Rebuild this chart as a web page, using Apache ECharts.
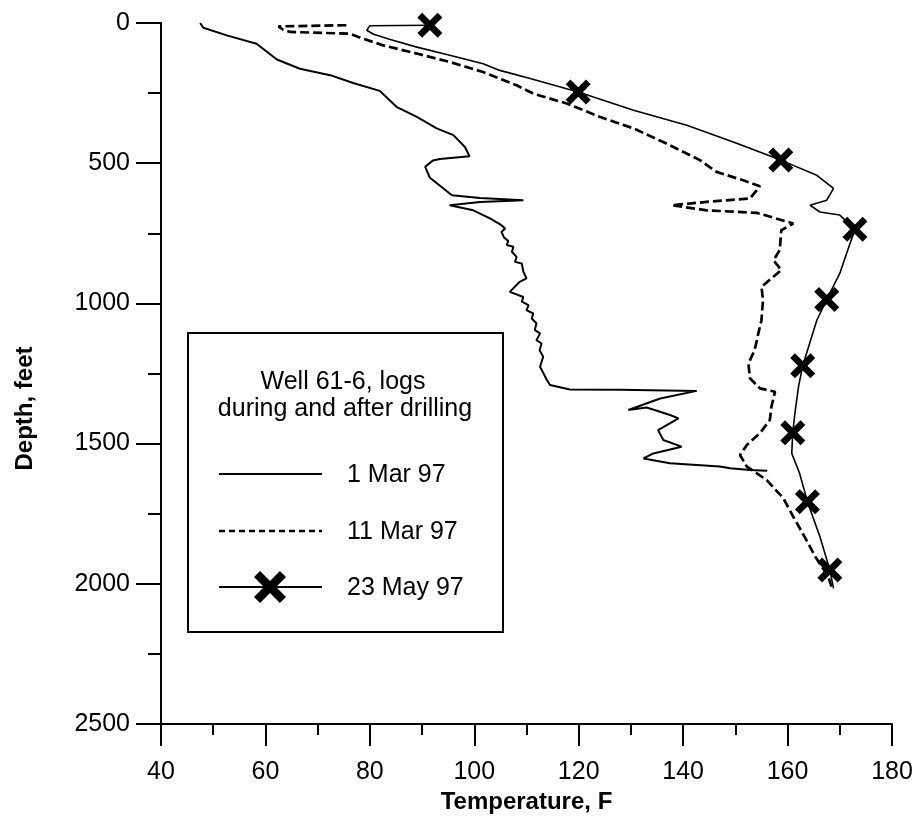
<!DOCTYPE html>
<html>
<head>
<meta charset="utf-8">
<script src="https://cdn.jsdelivr.net/npm/echarts@6/dist/echarts.min.js"></script>
<style>html,body{margin:0;padding:0;background:#fff}#c{width:917px;height:820px}</style>
</head>
<body>
<div id="c"></div>
<script>
// ---- data: [temperature F, depth ft] ----
const mar1 = [
  [47.5,0],[48.1,17],[52.6,44],[58.3,74],[62.2,130],[66.6,163],[72.4,186],[76.8,214],[81.9,242],
  [85.1,299],[89.0,335],[92.8,376],[96.0,400],[98.2,442],[99.1,475],[93.4,485],[92.1,490],[90.6,513],
  [91.5,552],[94.1,590],[95.7,614],[101.1,624],[109.4,632],[101.1,638],[95.3,650],[99.8,668],[103.0,697],
  [105.2,721],[105.9,733],[105.2,745],[105.7,765],[106.5,777],[106.2,792],[107.5,798],[107.2,816],
  [108.1,834],[107.8,852],[109.1,858],[109.4,887],[110.0,911],[108.7,923],[106.8,959],[109.4,977],
  [109.1,994],[110.4,1006],[110.0,1024],[111.3,1036],[111.0,1054],[111.9,1071],[111.6,1095],[112.6,1107],
  [111.9,1131],[112.9,1143],[112.5,1167],[113.2,1190],
  [112.6,1226],[113.9,1273],[114.5,1291],[118.3,1307],[127.9,1308],[142.6,1312],[135.6,1339],[129.5,1380],
  [133.0,1371],[137.5,1398],[139.1,1410],[135.2,1452],[136.2,1487],[139.7,1511],[134.3,1535],[132.4,1553],
  [137.5,1570],[147.0,1582],[149.0,1588],[152.8,1594],[156.1,1597]
];
const mar11 = [
  [75.5,8],[62.5,12],[63.4,24],[64.7,32],[76.2,38],[78.7,56],[82.6,80],[89.0,109],[95.3,139],[101.7,175],
  [108.1,222],[111.3,252],[117.7,287],[124.1,335],[130.5,376],[136.8,430],[143.2,489],[146.4,531],
  [151.5,561],[154.7,582],[154.1,596],[152.8,626],[144.5,638],[137.8,650],[144.5,668],[154.1,677],
  [161.1,715],[158.8,739],[158.5,810],[157.3,846],[158.8,881],[155.0,941],[155.3,988],[155.0,1060],
  [154.4,1107],[153.7,1166],[152.5,1214],[152.8,1267],[154.7,1303],[157.6,1315],[156.9,1369],[156.6,1416],
  [154.7,1463],[152.2,1505],[150.9,1541],[152.2,1582],[156.0,1630],[159.2,1695],[161.1,1761],[163.6,1844],
  [165.5,1909],[167.8,1974],[168.4,2010]
];
const may23Curve = [
  [91.5,8],[80.0,10],[79.4,26],[80.7,40],[83.9,59],[89.0,86],[95.3,115],[101.7,145],[104.9,169],[110.7,198],
  [119.9,246],[130.5,311],[140.7,365],[149.6,424],[158.7,489],[165.6,543],[168.8,590],[167.5,632],
  [164.3,650],[166.2,674],[170.0,685],[172.9,736],[171.3,822],[170.0,893],[167.5,986],[165.6,1060],
  [162.9,1222],[162.1,1297],[161.4,1392],[161.0,1461],[160.8,1535],[162.3,1606],[163.8,1707],[166.2,1832],
  [168.1,1951],[168.8,2016]
];
const may23Markers = [
  [91.5,8],[119.9,246],[158.7,489],[172.9,736],[167.5,986],[162.9,1222],[161.0,1461],[163.8,1707],[168.1,1951]
];
const seriesNames = ['1 Mar 97','11 Mar 97','23 May 97'];
const legendTitle = ['Well 61-6, logs','during and after drilling'];
const xName = 'Temperature, F';
const yName = 'Depth, feet';

// ---- styling ----
const FONT = '"Liberation Sans", Arial, sans-serif';
const xUnit = [[0,1.9],[1.9,0],[5,3.1],[8.1,0],[10,1.9],[6.9,5],[10,8.1],[8.1,10],[5,6.9],[1.9,10],[0,8.1],[3.1,5]];
const xPath = 'path://M' + xUnit.map(p => p.join(',')).join(' L') + ' Z';

function xPoly(cx, cy, size) {
  const s = size / 10;
  return xUnit.map(p => [cx - size/2 + p[0]*s, cy - size/2 + p[1]*s]);
}

const chart = echarts.init(document.getElementById('c'), null, {renderer:'canvas'});
const axisCommon = {
  type: 'value',
  axisLine: {show:true, onZero:false, lineStyle:{color:'#000', width:2}},
  splitLine: {show:false},
  axisLabel: {color:'#000', fontSize:25, fontFamily:FONT, formatter: v => String(v)},
  nameTextStyle: {color:'#000', fontSize:24, fontWeight:'bold', fontFamily:FONT}
};

const LFONT = '25px ' + FONT;
const legendRowY = [474, 531, 587];
const graphics = [
  {type:'rect', z:100, shape:{x:188, y:333, width:315, height:299}, style:{fill:'#fff', stroke:'#000', lineWidth:2}},
  {type:'text', z:101, x:343, y:382, style:{text:legendTitle[0], font:LFONT, fill:'#000', align:'center', verticalAlign:'middle'}},
  {type:'text', z:101, x:345, y:409, style:{text:legendTitle[1], font:LFONT, fill:'#000', align:'center', verticalAlign:'middle'}},
  {type:'line', z:101, shape:{x1:219, y1:legendRowY[0], x2:322, y2:legendRowY[0]}, style:{stroke:'#000', lineWidth:2}},
  {type:'line', z:101, shape:{x1:219, y1:legendRowY[1], x2:322, y2:legendRowY[1]}, style:{stroke:'#000', lineWidth:2.5, lineDash:[6,4]}},
  {type:'line', z:101, shape:{x1:219, y1:legendRowY[2], x2:322, y2:legendRowY[2]}, style:{stroke:'#000', lineWidth:1.8}},
  {type:'polygon', z:102, shape:{points:xPoly(270, legendRowY[2], 32)}, style:{fill:'#000'}}
];
seriesNames.forEach((n, i) => {
  graphics.push({type:'text', z:101, x:347, y:legendRowY[i] + 1, style:{text:n, font:LFONT, fill:'#000', align:'left', verticalAlign:'middle'}});
});

chart.setOption({
  animation: false,
  backgroundColor: '#fff',
  grid: {left:161, right:25, top:23, bottom:96},
  xAxis: Object.assign({}, axisCommon, {
    min:40, max:180, interval:20, position:'bottom',
    axisTick: {show:true, length:22, lineStyle:{color:'#000', width:2}},
    minorTick: {show:true, splitNumber:2, length:11, lineStyle:{color:'#000', width:2}},
    axisLabel: Object.assign({}, axisCommon.axisLabel, {margin:36}),
    name: xName, nameLocation:'middle', nameGap:61
  }),
  yAxis: Object.assign({}, axisCommon, {
    min:0, max:2500, interval:500, inverse:true, position:'left',
    axisTick: {show:true, length:25, lineStyle:{color:'#000', width:2}},
    minorTick: {show:true, splitNumber:2, length:13, lineStyle:{color:'#000', width:2}},
    axisLabel: Object.assign({}, axisCommon.axisLabel, {margin:31}),
    name: yName, nameLocation:'middle', nameGap:124,
    nameTextStyle: Object.assign({}, axisCommon.nameTextStyle, {padding:[0,70,0,0]})
  }),
  series: [
    {name:seriesNames[0], type:'line', data:mar1, symbol:'none', lineStyle:{color:'#000', width:2}, z:3},
    {name:seriesNames[1], type:'line', data:mar11, symbol:'none', lineStyle:{color:'#000', width:2.7, type:[9,4]}, z:3},
    {name:seriesNames[2], type:'line', data:may23Curve, symbol:'none', lineStyle:{color:'#000', width:1.6}, z:3},
    {name:seriesNames[2], type:'scatter', data:may23Markers, symbol:xPath, symbolSize:25, itemStyle:{color:'#000', opacity:1}, z:4}
  ],
  graphic: graphics
});
</script>
</body>
</html>
